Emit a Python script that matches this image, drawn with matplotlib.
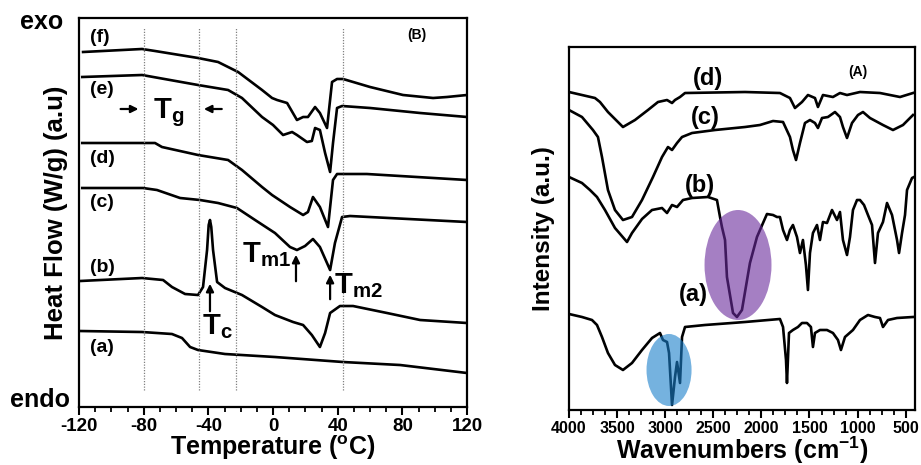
import numpy as np
import matplotlib
matplotlib.use("Agg")
import matplotlib.pyplot as plt
from matplotlib.patches import Ellipse
from matplotlib.ticker import MultipleLocator

plt.rcParams['font.family'] = 'Liberation Sans'
plt.rcParams['font.weight'] = 'bold'
plt.rcParams['axes.labelweight'] = 'bold'
plt.rcParams['axes.unicode_minus'] = False
plt.rcParams['mathtext.fontset'] = 'custom'
plt.rcParams['mathtext.rm'] = 'Liberation Sans:bold'
plt.rcParams['mathtext.it'] = 'Liberation Sans:bold'
plt.rcParams['mathtext.bf'] = 'Liberation Sans:bold'

# ---- DSC curves (B): temperature (C) / heat flow (a.u.)
dsc_a_T = [-119.4, -81, -62.5, -56.3, -51.3, -46.4, -29.7, 1.2, 43.3, 78.6, 120]
dsc_a_hf = [76, 75, 73, 69, 60, 57, 53, 50, 45, 42, 34]

dsc_b_T = [-119.4, -81, -68, -62.5, -54.4, -46.4, -43.3, -40.8, -39.8, -39, -38.2, -37.1,
           -34.6, -29.7, -19.2, -6.8, 1.2, 12.4, 18.6, 24, 29, 32.2, 35.3, 41.4, 49.5,
           70.5, 91, 120]
dsc_b_hf = [126, 129, 127, 120, 113, 112, 120, 157, 182, 187, 180, 157,
            125, 119, 112, 100, 92, 85, 82, 72, 60, 74, 94, 101, 101,
            94, 87, 84]

dsc_c_T = [-118, -80.4, -71.8, -57.5, -45.2, -34, -22.3, -11.1, 1.2, 10.5, 14.8, 19.8,
           24.7, 29, 35.3, 38.3, 42.7, 47.6, 120]
dsc_c_hf = [219, 219, 217, 209, 207, 204, 199, 187, 174, 160, 157, 161,
            168, 160, 137, 164, 190, 191, 185]

dsc_d_T = [-118, -73, -68.7, -46.4, -27.8, -19.2, -6.8, -0.6, 10.5, 18.6, 21.6, 24.7,
           29, 34, 37.1, 39.6, 58, 120]
dsc_d_hf = [264, 264, 260, 252, 247, 237, 220, 212, 200, 192, 195, 210,
            200, 180, 227, 233, 233, 227]

dsc_e_T = [-118, -81, -46.4, -27.8, -19.2, -6.8, 0, 6.2, 11.8, 14.8, 21, 24, 26, 29,
           32.2, 35.3, 37.1, 39.6, 42.7, 60, 91, 120]
dsc_e_hf = [330, 332, 322, 317, 309, 290, 282, 272, 275, 272, 265, 266, 279, 277,
            254, 235, 264, 299, 301, 299, 294, 290]

dsc_f_T = [-117.5, -81, -73, -46.4, -34, -21.6, -6.8, -0.6, 2.5, 8.7, 14.8, 18.6, 21.6,
           26, 29, 33.4, 36.5, 39.6, 43.3, 60, 80.4, 99, 107.6, 120]
dsc_f_hf = [355, 358, 356, 349, 345, 335, 317, 309, 307, 304, 287, 290, 290,
            300, 294, 279, 325, 328, 328, 320, 312, 309, 310, 312]

dsc_guides = [-80, -46, -23, 43]
dsc_ticks = [-120, -80, -40, 0, 40, 80, 120]

# ---- FTIR spectra (A): wavenumber (cm-1) / intensity (a.u.)
ir_a_wn = [4000, 3865, 3761, 3709, 3657, 3595, 3522, 3439, 3345, 3241, 3137, 3054, 3023,
           2981, 2960, 2929, 2898, 2877, 2846, 2825, 2794, 2586, 2306, 2170, 1807, 1775,
           1744, 1734, 1713, 1672, 1620, 1578, 1526, 1485, 1464, 1443, 1391, 1318, 1256,
           1204, 1173, 1131, 1048, 975, 892, 819, 767, 736, 684, 590, 424]
ir_a_int = [96, 93, 90, 85, 73, 57, 45, 40, 47, 60, 72, 77, 70,
            68, 57, 5, 33, 48, 27, 73, 83, 85, 87, 88, 91, 83,
            50, 27, 77, 80, 83, 87, 87, 83, 63, 77, 80, 80, 77,
            70, 60, 73, 80, 90, 95, 93, 92, 83, 90, 92, 93]

ir_b_wn = [4000, 3865, 3782, 3709, 3626, 3522, 3397, 3345, 3241, 3137, 3033, 2981, 2929,
           2877, 2815, 2721, 2555, 2462, 2430, 2410, 2378, 2358, 2295, 2254, 2202, 2119,
           2046, 1983, 1942, 1879, 1838, 1807, 1775, 1734, 1703, 1672, 1630, 1599, 1568,
           1537, 1516, 1495, 1464, 1422, 1391, 1360, 1318, 1266, 1214, 1183, 1152, 1110,
           1079, 1048, 1006, 975, 933, 892, 850, 819, 788, 736, 694, 642, 590, 569, 538,
           507, 486, 434, 413]
ir_b_int = [233, 227, 220, 213, 200, 182, 168, 177, 191, 200, 202, 197, 205,
            203, 210, 212, 213, 210, 193, 183, 170, 133, 97, 93, 100, 147,
            173, 187, 196, 195, 193, 193, 180, 170, 180, 185, 173, 157, 170,
            145, 120, 157, 177, 185, 170, 188, 187, 200, 190, 198, 170, 155,
            173, 200, 210, 210, 205, 195, 185, 147, 177, 188, 207, 195, 170, 157, 177,
            195, 220, 232, 233]

ir_c_wn = [4000, 3865, 3751, 3699, 3657, 3595, 3522, 3439, 3345, 3241, 3127, 3033, 2971,
           2929, 2877, 2825, 2721, 2482, 2170, 2015, 1879, 1775, 1703, 1672, 1640, 1599,
           1547, 1495, 1443, 1412, 1370, 1308, 1235, 1183, 1152, 1110, 1058, 996, 944,
           871, 736, 632, 528, 424]
ir_c_int = [300, 293, 280, 273, 253, 220, 200, 190, 193, 210, 233, 253, 263,
            260, 267, 273, 277, 280, 283, 285, 289, 288, 273, 260, 250, 267,
            287, 290, 287, 282, 292, 293, 298, 293, 283, 272, 287, 295, 298,
            292, 285, 280, 285, 295]

ir_d_wn = [4000, 3865, 3730, 3678, 3595, 3439, 3314, 3179, 3075, 2981, 2929, 2898, 2846,
           2794, 2170, 1807, 1703, 1651, 1578, 1516, 1443, 1412, 1360, 1256, 1183, 1110,
           975, 767, 559, 424]
ir_d_int = [318, 315, 312, 308, 298, 283, 290, 300, 308, 310, 307, 310, 313,
            317, 318, 317, 312, 302, 308, 315, 312, 303, 315, 313, 317, 315,
            318, 317, 313, 317]

ir_ticks = [4000, 3500, 3000, 2500, 2000, 1500, 1000, 500]

fig = plt.figure(figsize=(9.21, 4.65), dpi=100)

# ================= left: DSC =================
ax1 = fig.add_axes([0.0858, 0.1247, 0.4213, 0.8366])
for T, hf in [(dsc_a_T, dsc_a_hf), (dsc_b_T, dsc_b_hf), (dsc_c_T, dsc_c_hf),
              (dsc_d_T, dsc_d_hf), (dsc_e_T, dsc_e_hf), (dsc_f_T, dsc_f_hf)]:
    ax1.plot(T, hf, color='black', lw=1.9, solid_joinstyle='round')
for g in dsc_guides:
    ax1.plot([g, g], [17, 379], color='gray', lw=0.9, ls=(0, (1, 1.2)))

ax1.set_xlim(-120, 120)
ax1.set_ylim(0, 389)
ax1.set_xticks(dsc_ticks)
ax1.xaxis.set_minor_locator(MultipleLocator(10))
ax1.set_yticks([])
ax1.tick_params(axis='x', which='major', length=6, width=1.5, labelsize=13.5, pad=2)
ax1.tick_params(axis='x', which='minor', length=3.5, width=1.3)
for s in ax1.spines.values():
    s.set_linewidth(1.6)
ax1.set_xlabel(r'Temperature ($^{\mathbf{o}}$C)', fontsize=18, labelpad=-1)
ax1.set_ylabel('Heat Flow (W/g) (a.u)', fontsize=18.5, labelpad=8)

for lab, yy in [('(f)', 369), ('(e)', 317), ('(d)', 249), ('(c)', 205), ('(b)', 140), ('(a)', 60)]:
    ax1.text(-113.5, yy, lab, fontsize=14, ha='left', va='center')
ax1.text(89, 372, '(B)', fontsize=10, ha='center', va='center')

ax1.text(-74.5, 294, r'T$_{g}$', fontsize=21, ha='left', va='center')
ax1.annotate('', xy=(-81.5, 298), xytext=(-96, 298),
             arrowprops=dict(arrowstyle='-|>', color='k', lw=1.6, mutation_scale=11))
ax1.annotate('', xy=(-44.5, 298), xytext=(-30, 298),
             arrowprops=dict(arrowstyle='-|>', color='k', lw=1.6, mutation_scale=11))

ax1.text(-44, 80, r'T$_{c}$', fontsize=21, ha='left', va='center')
ax1.annotate('', xy=(-39, 126), xytext=(-39, 93),
             arrowprops=dict(arrowstyle='-|>', color='k', lw=1.6, mutation_scale=11))
ax1.text(-19, 152, r'T$_{m1}$', fontsize=21, ha='left', va='center')
ax1.annotate('', xy=(14.2, 155), xytext=(14.2, 123),
             arrowprops=dict(arrowstyle='-|>', color='k', lw=1.6, mutation_scale=11))
ax1.text(38, 121, r'T$_{m2}$', fontsize=21, ha='left', va='center')
ax1.annotate('', xy=(35.3, 135), xytext=(35.3, 105),
             arrowprops=dict(arrowstyle='-|>', color='k', lw=1.6, mutation_scale=11))

fig.text(42 / 921, 1 - 22 / 465, 'exo', fontsize=18, ha='center', va='center')
fig.text(40 / 921, 1 - 400 / 465, 'endo', fontsize=18, ha='center', va='center')

# ================= right: FTIR =================
ax2 = fig.add_axes([0.6178, 0.1183, 0.3757, 0.7806])
for wn, it in [(ir_a_wn, ir_a_int), (ir_b_wn, ir_b_int), (ir_c_wn, ir_c_int), (ir_d_wn, ir_d_int)]:
    ax2.plot(wn, it, color='black', lw=1.9, solid_joinstyle='round', zorder=2)

ax2.add_patch(Ellipse((2960, 40), 468, 72, facecolor='#1a7fcb', alpha=0.6, lw=0, zorder=3))
ax2.add_patch(Ellipse((2243, 145), 696, 110, facecolor='#6a2a9c', alpha=0.6, lw=0, zorder=3))

ax2.set_xlim(4000, 403)
ax2.set_ylim(0, 363)
ax2.set_xticks(ir_ticks)
ax2.xaxis.set_minor_locator(MultipleLocator(125))
ax2.set_yticks([])
ax2.tick_params(axis='x', which='major', length=6, width=1.5, labelsize=11.5, pad=2)
ax2.tick_params(axis='x', which='minor', length=3.5, width=1.3)
for s in ax2.spines.values():
    s.set_linewidth(1.6)
ax2.set_xlabel(r'Wavenumbers (cm$^{\mathbf{-1}}$)', fontsize=18, labelpad=-1)
ax2.set_ylabel('Intensity (a.u.)', fontsize=17.5, labelpad=10)

for lab, wn0, yy in [('(d)', 2555, 332), ('(c)', 2586, 293), ('(b)', 2638, 225), ('(a)', 2711, 115)]:
    ax2.text(wn0, yy, lab, fontsize=17, ha='center', va='center')
ax2.text(996, 338, '(A)', fontsize=10, ha='center', va='center')

fig.savefig('out.png', dpi=100)
